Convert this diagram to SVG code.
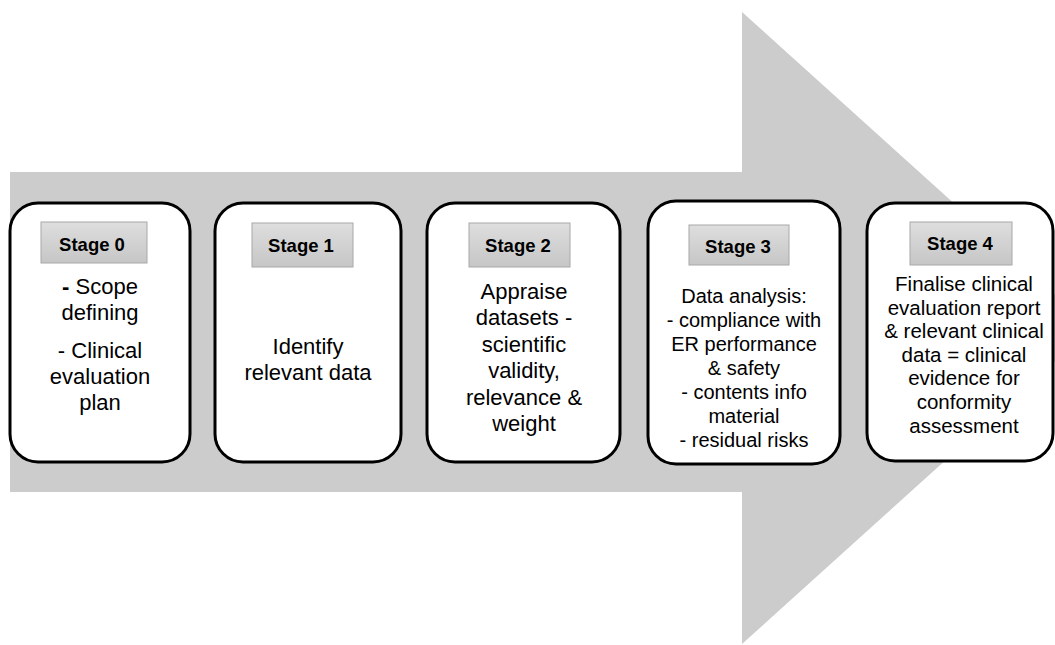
<svg xmlns="http://www.w3.org/2000/svg" width="1055" height="645" viewBox="0 0 1055 645">
  <style>
    .box { fill: #ffffff; stroke: #000000; stroke-width: 3; }
    .lab { fill: url(#labGrad); stroke: #a8a8a8; stroke-width: 1; }
    .labtxt { font-family: "Liberation Sans", Arial, sans-serif; font-weight: bold; font-size: 18.5px; fill: #000; text-anchor: middle; }
    .body { font-family: "Liberation Sans", Arial, sans-serif; font-size: 22px; fill: #000; text-anchor: middle; }
    .body3 { font-family: "Liberation Sans", Arial, sans-serif; font-size: 20px; fill: #000; text-anchor: middle; }
    .body4 { font-family: "Liberation Sans", Arial, sans-serif; font-size: 20.5px; fill: #000; text-anchor: middle; }
  </style>
  <defs>
    <linearGradient id="labGrad" x1="0" y1="0" x2="0" y2="1">
      <stop offset="0" stop-color="#dedede"/>
      <stop offset="1" stop-color="#c6c6c6"/>
    </linearGradient>
  </defs>
  <rect x="0" y="0" width="1055" height="645" fill="#ffffff"/>
  <g id="arrow">
    <polygon points="10,172 742,172 742,12 1092,328 742,644 742,492 10,492" fill="#cccccc"/>
  </g>
  <g id="connectors"></g>
  <g id="stage0">
    <rect class="box" x="10" y="203" width="180" height="259" rx="28" ry="28"/>
    <rect class="lab" x="41" y="222" width="106" height="41"/>
    <text class="labtxt" x="92" y="251">Stage 0</text>
    <text class="body"><tspan x="100" y="294"><tspan font-weight="bold">-</tspan> Scope</tspan><tspan x="100" y="320">defining</tspan><tspan x="100" y="358">- Clinical</tspan><tspan x="100" y="384">evaluation</tspan><tspan x="100" y="410">plan</tspan></text>
  </g>
  <g id="stage1">
    <rect class="box" x="215" y="203" width="186" height="259" rx="28" ry="28"/>
    <rect class="lab" x="252" y="223" width="101" height="44"/>
    <text class="labtxt" x="301" y="252">Stage 1</text>
    <text class="body"><tspan x="308" y="354">Identify</tspan><tspan x="308" y="380">relevant data</tspan></text>
  </g>
  <g id="stage2">
    <rect class="box" x="427" y="203" width="193" height="259" rx="28" ry="28"/>
    <rect class="lab" x="469" y="223" width="101" height="44"/>
    <text class="labtxt" x="518" y="252">Stage 2</text>
    <text class="body"><tspan x="524" y="299">Appraise</tspan><tspan x="524" y="325">datasets -</tspan><tspan x="524" y="352">scientific</tspan><tspan x="524" y="378">validity,</tspan><tspan x="524" y="405">relevance &amp;</tspan><tspan x="524" y="431">weight</tspan></text>
  </g>
  <g id="stage3">
    <rect class="box" x="648" y="201" width="192" height="263" rx="28" ry="28"/>
    <rect class="lab" x="689" y="225" width="100" height="40"/>
    <text class="labtxt" x="738" y="253">Stage 3</text>
    <text class="body3"><tspan x="744" y="303">Data analysis:</tspan><tspan x="744" y="327">- compliance with</tspan><tspan x="744" y="351">ER performance</tspan><tspan x="744" y="375">&amp; safety</tspan><tspan x="744" y="399">- contents info</tspan><tspan x="744" y="423">material</tspan><tspan x="744" y="447">- residual risks</tspan></text>
  </g>
  <g id="stage4">
    <rect class="box" x="867" y="203" width="186" height="258" rx="28" ry="28"/>
    <rect class="lab" x="910" y="222" width="102" height="43"/>
    <text class="labtxt" x="960" y="250">Stage 4</text>
    <text class="body4"><tspan x="964" y="291">Finalise clinical</tspan><tspan x="964" y="315">evaluation report</tspan><tspan x="964" y="338">&amp; relevant clinical</tspan><tspan x="964" y="362">data = clinical</tspan><tspan x="964" y="385">evidence for</tspan><tspan x="964" y="409">conformity</tspan><tspan x="964" y="433">assessment</tspan></text>
  </g>
</svg>
